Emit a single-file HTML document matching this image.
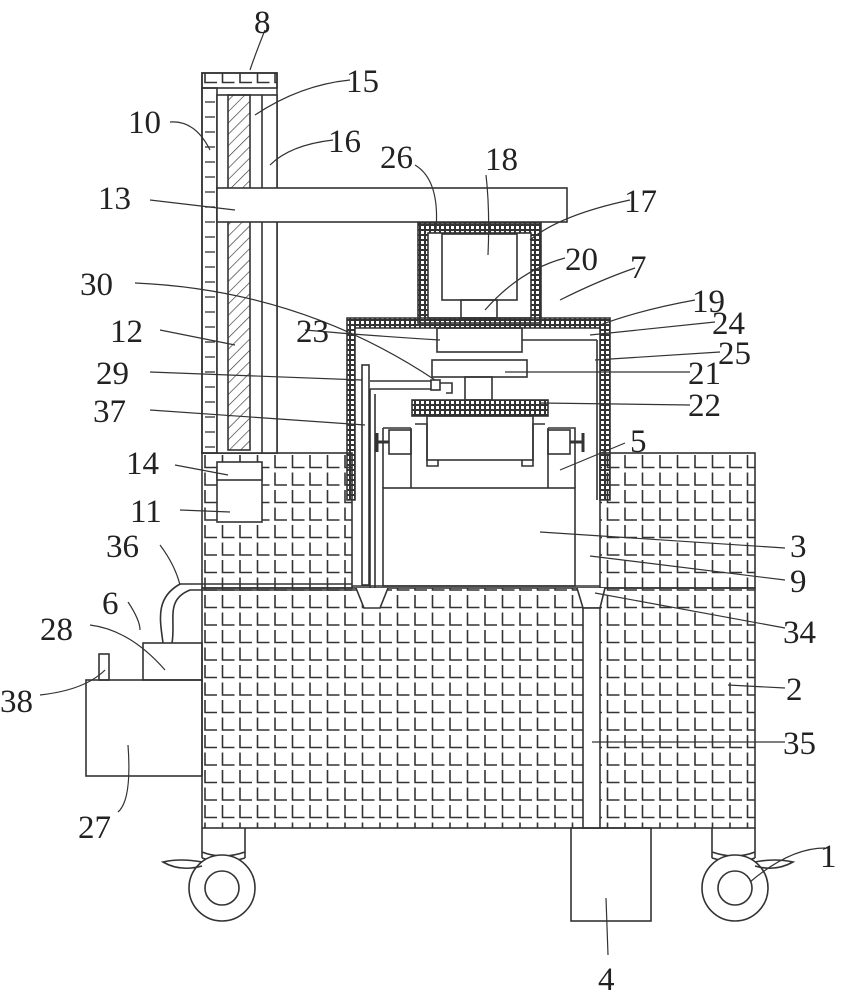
<!DOCTYPE html>
<html><head><meta charset="utf-8"><style>
html,body{margin:0;padding:0;background:#fff}
svg{display:block}
text{font-family:"Liberation Serif",serif;font-size:33px;fill:#222}
</style></head><body>
<svg width="846" height="1000" viewBox="0 0 846 1000" xmlns="http://www.w3.org/2000/svg">
<defs>
<pattern id="L" x="202" y="453" width="17.5" height="17.5" patternUnits="userSpaceOnUse">
<path d="M3 2 V14.5 H15" fill="none" stroke="#333" stroke-width="1.6"/>
</pattern>
<pattern id="g" x="0" y="0" width="5" height="5" patternUnits="userSpaceOnUse">
<rect x="0.5" y="0.5" width="4" height="4" fill="none" stroke="#333" stroke-width="1"/>
</pattern>
<pattern id="h" width="8" height="8" patternUnits="userSpaceOnUse" patternTransform="rotate(45)">
<line x1="0" y1="0" x2="0" y2="8" stroke="#333" stroke-width="1.3"/>
</pattern>
<pattern id="b" x="202" y="73" width="15" height="15" patternUnits="userSpaceOnUse">
<line x1="3" y1="14" x2="13" y2="14" stroke="#333" stroke-width="1.3"/>
</pattern>
</defs>
<g fill="none" stroke="#333" stroke-width="1.6">
<!-- main body -->
<rect x="202" y="588" width="553" height="240" fill="url(#L)"/>
<rect x="202" y="453" width="150" height="135" fill="url(#L)"/>
<rect x="600" y="453" width="155" height="135" fill="url(#L)"/>
<!-- column 8 -->
<rect x="202" y="73" width="75" height="380" fill="#fff"/>
<rect x="202" y="88" width="15" height="365" fill="url(#b)"/>
<rect x="202" y="73" width="75" height="15" fill="url(#L)"/>
<rect x="217" y="95" width="60" height="358" fill="#fff"/>
<rect x="228" y="95" width="22" height="355" fill="url(#h)"/>
<line x1="262" y1="95" x2="262" y2="453"/>
<!-- arm 13 -->
<rect x="217" y="188" width="350" height="34" fill="#fff"/>
<!-- box 17 -->
<rect x="418" y="223" width="123" height="100" fill="url(#g)"/>
<rect x="428" y="233" width="103" height="85" fill="#fff"/>
<rect x="442" y="234" width="75" height="66"/>
<rect x="461" y="300" width="36" height="18"/>
<!-- cover 19 -->
<path d="M347 500 V318 H610 V500 H600 V328 H355 V500 Z" fill="url(#g)"/>
<rect x="437" y="328" width="85" height="24"/>
<line x1="522" y1="340" x2="597" y2="340"/>
<line x1="597" y1="340" x2="597" y2="500"/>
<rect x="432" y="360" width="95" height="17"/>
<rect x="465" y="377" width="27" height="23"/>
<rect x="412" y="400" width="136" height="16" fill="url(#g)"/>
<!-- 30 / 29 / 37 -->
<rect x="431" y="380" width="9" height="10"/>
<path d="M440 383 H452 V393 H446"/>
<path d="M370 381 H431 M370 389 H431 M375 394 V588 M370 389 V588"/>
<rect x="362" y="365" width="7" height="220"/>
<!-- clamp -->
<rect x="427" y="416" width="106" height="44"/>
<path d="M415 424 H427 V466 H438 V460 M545 424 H533 V466 H522 V460"/>
<path d="M383 428 V488 M411 428 V488 M383 428 H411 M548 428 H575 V488 M548 428 V488"/>
<rect x="389" y="430" width="22" height="24"/><rect x="548" y="430" width="22" height="24"/>
<path d="M378 442 H389 M570 442 H582" stroke-width="3"/>
<line x1="377" y1="433" x2="377" y2="452" stroke-width="3"/>
<line x1="583" y1="433" x2="583" y2="452" stroke-width="3"/>
<!-- 3 -->
<rect x="383" y="488" width="192" height="98" fill="#fff"/>
<line x1="352" y1="586" x2="600" y2="586"/>
<!-- funnels 34 -->
<path d="M356 588 L364 608 H380 L388 588" fill="#fff"/>
<path d="M577 588 L583 608 H600 L605 588" fill="#fff"/>
<rect x="583" y="608" width="17" height="220" fill="#fff"/>
<!-- box 4 -->
<rect x="571" y="828" width="80" height="93"/>
<!-- box 11/14 -->
<rect x="217" y="470" width="45" height="52" fill="#fff"/>
<rect x="217" y="462" width="45" height="18" fill="#fff"/>
<!-- tank 27,28,38 -->
<rect x="86" y="680" width="116" height="96"/>
<rect x="143" y="643" width="59" height="37"/>
<rect x="99" y="654" width="10" height="26"/>
<path d="M163 643 C160 620 155 598 180 584 H352 M172 643 C176 620 165 600 190 590 H352" />
<!-- wheels -->
<path d="M202 828 V858 M245 828 V858 M202 858 Q222 865 245 858 M202 852 Q222 860 245 852"/>
<circle cx="222" cy="888" r="33" fill="#fff"/><circle cx="222" cy="888" r="17"/>
<path d="M202 862 Q180 858 163 862 Q180 872 202 866"/>
<path d="M712 828 V858 M755 828 V858 M712 858 Q735 865 755 858 M712 852 Q735 860 755 852"/>
<circle cx="735" cy="888" r="33" fill="#fff"/><circle cx="735" cy="888" r="17"/>
<path d="M755 862 Q775 858 793 862 Q775 872 755 866"/>
</g>
<!-- leader lines -->
<g fill="none" stroke="#333" stroke-width="1.2">
<path d="M265 30 Q255 55 250 70"/>
<path d="M350 80 Q300 85 255 115"/>
<path d="M170 122 Q195 120 210 150"/>
<path d="M333 140 Q290 145 270 165"/>
<path d="M415 165 Q440 180 436 230"/>
<path d="M486 175 Q490 210 488 255"/>
<path d="M150 200 L235 210"/>
<path d="M630 200 Q560 215 530 240"/>
<path d="M135 283 Q300 290 435 380"/>
<path d="M565 258 Q520 270 485 310"/>
<path d="M635 268 Q600 280 560 300"/>
<path d="M160 330 L235 345"/>
<path d="M695 300 Q640 310 600 325"/>
<path d="M305 330 Q360 335 440 340"/>
<path d="M715 322 L590 335"/>
<path d="M720 352 L595 360"/>
<path d="M150 372 L362 380"/>
<path d="M690 372 L505 372"/>
<path d="M150 410 L365 425"/>
<path d="M690 405 L540 403"/>
<path d="M175 465 L228 475"/>
<path d="M625 443 L560 470"/>
<path d="M180 510 L230 512"/>
<path d="M160 545 Q175 565 180 585"/>
<path d="M785 548 L540 532"/>
<path d="M128 602 Q140 620 140 630"/>
<path d="M785 580 L590 556"/>
<path d="M90 625 Q130 630 165 670"/>
<path d="M785 628 L595 593"/>
<path d="M40 695 Q85 690 105 670"/>
<path d="M785 688 L728 685"/>
<path d="M785 742 L592 742"/>
<path d="M118 812 Q132 800 128 745"/>
<path d="M825 848 Q790 848 750 882"/>
<path d="M608 955 L606 898"/>
</g>
<g>
<text x="254" y="33">8</text>
<text x="346" y="92">15</text>
<text x="128" y="133">10</text>
<text x="328" y="152">16</text>
<text x="380" y="168">26</text>
<text x="485" y="170">18</text>
<text x="98" y="209">13</text>
<text x="624" y="212">17</text>
<text x="80" y="295">30</text>
<text x="565" y="270">20</text>
<text x="630" y="278">7</text>
<text x="110" y="342">12</text>
<text x="692" y="312">19</text>
<text x="296" y="342">23</text>
<text x="712" y="334">24</text>
<text x="718" y="364">25</text>
<text x="96" y="384">29</text>
<text x="688" y="384">21</text>
<text x="93" y="422">37</text>
<text x="688" y="416">22</text>
<text x="126" y="474">14</text>
<text x="630" y="452">5</text>
<text x="130" y="522">11</text>
<text x="106" y="557">36</text>
<text x="790" y="557">3</text>
<text x="102" y="614">6</text>
<text x="790" y="592">9</text>
<text x="40" y="640">28</text>
<text x="783" y="643">34</text>
<text x="0" y="712">38</text>
<text x="786" y="700">2</text>
<text x="783" y="754">35</text>
<text x="78" y="838">27</text>
<text x="820" y="867">1</text>
<text x="598" y="990">4</text>
</g>
</svg>
</body></html>
